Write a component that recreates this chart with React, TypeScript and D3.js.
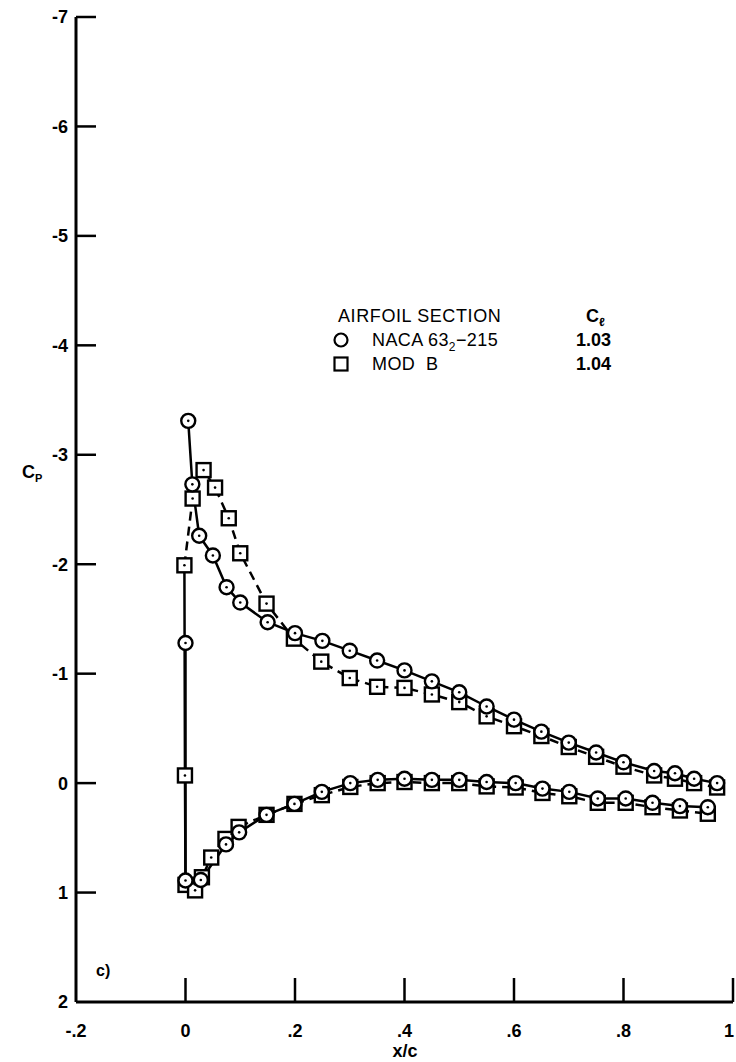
import React from "react";
import * as d3 from "d3";

// x/c, Cp pairs
const nacaUpper: [number, number][] = [
  [0.005, -3.31], [0.0125, -2.73], [0.025, -2.26], [0.05, -2.08], [0.075, -1.79],
  [0.1, -1.65], [0.15, -1.47], [0.2, -1.37], [0.25, -1.3], [0.3, -1.21],
  [0.35, -1.12], [0.4, -1.03], [0.45, -0.93], [0.5, -0.83], [0.55, -0.7],
  [0.6, -0.58], [0.65, -0.47], [0.7, -0.37], [0.75, -0.28], [0.8, -0.19],
  [0.856, -0.11], [0.894, -0.09], [0.929, -0.04], [0.971, 0.0],
];
const nacaLower: [number, number][] = [
  [0.0, -1.28], [0.0, 0.89], [0.028, 0.885], [0.074, 0.56], [0.098, 0.45],
  [0.148, 0.29], [0.199, 0.19], [0.249, 0.08], [0.301, 0.0], [0.351, -0.03],
  [0.4, -0.04], [0.45, -0.03], [0.5, -0.03], [0.55, -0.01], [0.603, 0.0],
  [0.652, 0.05], [0.701, 0.08], [0.753, 0.14], [0.804, 0.14], [0.853, 0.18],
  [0.903, 0.21], [0.954, 0.22],
];
const modUpper: [number, number][] = [
  [-0.002, -1.99], [0.013, -2.6], [0.033, -2.86], [0.054, -2.7], [0.079, -2.42],
  [0.1, -2.1], [0.148, -1.64], [0.198, -1.32], [0.248, -1.11], [0.3, -0.96],
  [0.35, -0.88], [0.4, -0.87], [0.45, -0.81], [0.5, -0.74], [0.55, -0.61],
  [0.6, -0.52], [0.65, -0.43], [0.7, -0.33], [0.75, -0.24], [0.8, -0.15],
  [0.856, -0.07], [0.894, -0.04], [0.929, 0.0], [0.971, 0.04],
];
const modNose: [number, number][] = [
  [-0.002, -1.99], [-0.001, -0.07], [0.0, 0.93],
];
const modLower: [number, number][] = [
  [0.0, 0.93], [0.0175, 0.98], [0.03, 0.86], [0.047, 0.68], [0.073, 0.51],
  [0.097, 0.4], [0.148, 0.29], [0.199, 0.19], [0.249, 0.11], [0.301, 0.035],
  [0.351, 0.0], [0.4, -0.01], [0.45, 0.0], [0.5, 0.0], [0.55, 0.03],
  [0.603, 0.04], [0.652, 0.09], [0.701, 0.12], [0.753, 0.18], [0.804, 0.18],
  [0.853, 0.22], [0.903, 0.25], [0.954, 0.28],
];

const xTicks = [-0.2, 0, 0.2, 0.4, 0.6, 0.8, 1];
const xTickLabels = ["-.2", "0", ".2", ".4", ".6", ".8", "1"];
const yTicks = [-7, -6, -5, -4, -3, -2, -1, 0, 1, 2];
const yTickLabels = ["-7", "-6", "-5", "-4", "-3", "-2", "-1", "0", "1", "2"];

const legendNames = ["NACA 63", "MOD  B"];
const legendCl = ["1.03", "1.04"];

const W = 736;
const H = 1062;
const FONT = "'Liberation Sans', Arial, sans-serif";

export default function App() {
  const x = d3.scaleLinear().domain([-0.2, 1]).range([76, 733]);
  const y = d3.scaleLinear().domain([-7, 2]).range([17, 1002]);
  const line = d3
    .line<[number, number]>()
    .x((d) => x(d[0]))
    .y((d) => y(d[1]));

  const x0 = x(-0.2);
  const yBase = y(2);

  const nacaAll = [...nacaUpper, ...nacaLower];
  const modAll = [...modUpper, ...modNose.slice(1, 2), ...modLower];

  const circle = (d: [number, number], i: number, key: string) => (
    <g key={key + i}>
      <circle cx={x(d[0])} cy={y(d[1])} r={7} fill="#fff" stroke="#000" strokeWidth={2.4} />
      <circle cx={x(d[0])} cy={y(d[1])} r={1.3} fill="#000" />
    </g>
  );
  const square = (d: [number, number], i: number, key: string) => (
    <g key={key + i}>
      <rect x={x(d[0]) - 7} y={y(d[1]) - 7} width={14} height={14} fill="#fff" stroke="#000" strokeWidth={2.4} />
      <circle cx={x(d[0])} cy={y(d[1])} r={1.3} fill="#000" />
    </g>
  );

  return (
    <div style={{ position: "absolute", left: 0, top: 0, width: W, height: H, background: "#fff" }}>
      <svg width={W} height={H} viewBox={`0 0 ${W} ${H}`} style={{ display: "block" }}>
        <rect width={W} height={H} fill="#fff" />
        {/* axes */}
        <line x1={x0} y1={y(-7)} x2={x0} y2={yBase} stroke="#000" strokeWidth={3} />
        <line x1={x0} y1={yBase} x2={x(1)} y2={yBase} stroke="#000" strokeWidth={3} />
        {yTicks.slice(0, -1).map((t) => (
          <line key={"yt" + t} x1={x0} x2={x0 + 20} y1={y(t)} y2={y(t)} stroke="#000" strokeWidth={2.5} />
        ))}
        {xTicks.slice(1).map((t) => (
          <line key={"xt" + t} x1={x(t)} x2={x(t)} y1={yBase} y2={yBase - 24} stroke="#000" strokeWidth={2.5} />
        ))}
        {yTicks.map((t, i) => (
          <text key={"yl" + t} x={68} y={y(t)} dy="0.36em" textAnchor="end" fontFamily={FONT} fontWeight="bold" fontSize={18}>
            {yTickLabels[i]}
          </text>
        ))}
        {xTicks.map((t, i) => (
          <text key={"xl" + t} x={Math.min(x(t), 729)} y={1031} dy="0.36em" textAnchor="middle" fontFamily={FONT} fontWeight="bold" fontSize={18}>
            {xTickLabels[i]}
          </text>
        ))}
        <text x={405} y={1051} dy="0.36em" textAnchor="middle" fontFamily={FONT} fontWeight="bold" fontSize={18}>
          x/c
        </text>
        <text x={22} y={y(-2.85)} dy="0.36em" fontFamily={FONT} fontWeight="bold" fontSize={18}>
          C<tspan fontSize={11} dy="4">P</tspan>
        </text>
        <text x={96} y={970} dy="0.36em" fontFamily={FONT} fontWeight="bold" fontSize={16}>
          c)
        </text>

        {/* lines */}
        <path d={line(nacaUpper) || ""} fill="none" stroke="#000" strokeWidth={2.5} />
        <path d={line(nacaLower) || ""} fill="none" stroke="#000" strokeWidth={2.5} />
        <path d={line(modUpper) || ""} fill="none" stroke="#000" strokeWidth={2.5} strokeDasharray="9,6" />
        <path d={line(modNose) || ""} fill="none" stroke="#000" strokeWidth={2.5} />
        <path d={line(modLower) || ""} fill="none" stroke="#000" strokeWidth={2.5} strokeDasharray="9,6" />

        {/* markers */}
        {modAll.map((d, i) => square(d, i, "s"))}
        {nacaAll.map((d, i) => circle(d, i, "c"))}

        {/* legend */}
        <g fontFamily={FONT} fontSize={18}>
          <text x={338} y={316} dy="0.36em" letterSpacing={0.6}>AIRFOIL SECTION</text>
          <text x={586} y={316} dy="0.36em" fontWeight="bold">
            C<tspan fontSize={12} dy="4">ℓ</tspan>
          </text>
          <circle cx={341} cy={340} r={6.5} fill="#fff" stroke="#000" strokeWidth={2.2} />
          <rect x={334.5} y={357.5} width={13} height={13} fill="#fff" stroke="#000" strokeWidth={2.2} />
          <text x={372} y={340} dy="0.36em" letterSpacing={0.4}>
            {legendNames[0]}
            <tspan fontSize={12} dy="5">2</tspan>
            <tspan dy="-5">−215</tspan>
          </text>
          <text x={372} y={364} dy="0.36em" letterSpacing={0.4} style={{ whiteSpace: "pre" }}>{legendNames[1]}</text>
          <text x={576} y={340} dy="0.36em" fontWeight="bold">{legendCl[0]}</text>
          <text x={576} y={364} dy="0.36em" fontWeight="bold">{legendCl[1]}</text>
        </g>
      </svg>
    </div>
  );
}
